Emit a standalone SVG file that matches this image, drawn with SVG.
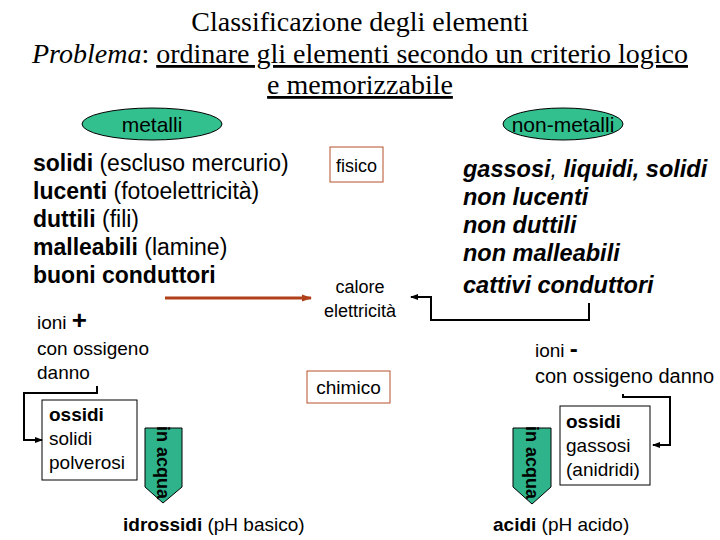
<svg xmlns="http://www.w3.org/2000/svg" width="720" height="540" viewBox="0 0 720 540">
<defs>
<style>
.t{font-family:"Liberation Serif",serif;font-size:28px;fill:#000}
.s{font-family:"Liberation Sans",Arial,sans-serif;fill:#000}
.l{font-size:23px}
.m{font-size:19px}
.bi{font-size:23.5px;font-weight:bold;font-style:italic}
.ell{fill:#33c08f;stroke:#000;stroke-width:1}
.box{fill:#fff;stroke:#000;stroke-width:1}
.bbox{fill:#fff;stroke:#b5502a;stroke-width:1}
.aq{fill:#2fb38a;stroke:#000;stroke-width:1}
.c{fill:none;stroke:#000;stroke-width:2}
</style>
<marker id="ah" markerWidth="8" markerHeight="8" refX="7" refY="4" orient="auto" markerUnits="userSpaceOnUse"><path d="M0,1 L8,4 L0,7 Z" fill="#000"/></marker>
<marker id="ahr" markerWidth="10" markerHeight="8" refX="9" refY="4" orient="auto" markerUnits="userSpaceOnUse"><path d="M0,0.5 L10,4 L0,7.5 Z" fill="#b0401a"/></marker>
</defs>
<g id="title">
<text class="t" x="360" y="31" text-anchor="middle">Classificazione degli elementi</text>
<text class="t" x="360" y="63" text-anchor="middle"><tspan font-style="italic">Problema</tspan>: <tspan text-decoration="underline">ordinare gli elementi secondo un criterio logico</tspan></text>
<text class="t" x="360" y="94" text-anchor="middle" text-decoration="underline">e memorizzabile</text>
</g>
<g id="metalli"><ellipse class="ell" cx="152" cy="124" rx="70" ry="16"/><text class="s" x="152" y="132" font-size="21" text-anchor="middle">metalli</text></g>
<g id="nonmetalli"><ellipse class="ell" cx="563" cy="124" rx="60" ry="16"/><text class="s" x="563" y="132" font-size="21" text-anchor="middle">non-metalli</text></g>
<g id="prop-metalli" class="s l">
<text x="33" y="171"><tspan font-weight="bold">solidi</tspan> (escluso mercurio)</text>
<text x="33" y="199"><tspan font-weight="bold">lucenti</tspan> (fotoelettricità)</text>
<text x="33" y="227"><tspan font-weight="bold">duttili</tspan> (fili)</text>
<text x="33" y="255"><tspan font-weight="bold">malleabili</tspan> (lamine)</text>
<text x="33" y="283" font-weight="bold">buoni conduttori</text>
</g>
<g id="prop-nonmetalli" class="s">
<text class="bi" x="463" y="177"><tspan>gassosi</tspan><tspan font-weight="normal">, </tspan><tspan>liquidi, solidi</tspan></text>
<text class="bi" x="463" y="205">non lucenti</text>
<text class="bi" x="463" y="233">non duttili</text>
<text class="bi" x="463" y="261">non malleabili</text>
<text class="bi" x="463" y="293">cattivi conduttori</text>
</g>
<g id="fisico"><rect class="bbox" x="330" y="147" width="53" height="35"/><text class="s" x="356.5" y="172" font-size="18" text-anchor="middle">fisico</text></g>
<g id="calore"><text class="s" x="360" y="293" font-size="18" text-anchor="middle">calore</text><text class="s" x="360" y="317" font-size="18" text-anchor="middle">elettricità</text></g>
<g id="chimico"><rect class="bbox" x="307" y="371" width="83" height="32"/><text class="s" x="348.5" y="394" font-size="19" text-anchor="middle">chimico</text></g>
<g id="ioni-pos" class="s m">
<text x="37" y="329">ioni <tspan font-weight="bold" font-size="26">+</tspan></text>
<text x="37" y="355">con ossigeno</text>
<text x="37" y="379">danno</text>
</g>
<g id="ioni-neg" class="s">
<text x="535" y="357" font-size="19">ioni <tspan font-weight="bold" font-size="24">-</tspan></text>
<text x="535" y="383" font-size="20">con ossigeno danno</text>
</g>
<g id="ossidi-basici"><rect class="box" x="42" y="400" width="95" height="80"/>
<text class="s m" x="49" y="421" font-weight="bold">ossidi</text><text class="s m" x="49" y="445">solidi</text><text class="s m" x="49" y="469">polverosi</text></g>
<g id="acqua-sx"><path class="aq" d="M145,428 H182 V487 L163,503 L145,487 Z"/><text class="s" font-size="18" font-weight="bold" transform="translate(157,426) rotate(90)">in acqua</text></g>
<g id="idrossidi"><text class="s m" x="123" y="531"><tspan font-weight="bold">idrossidi</tspan> (pH basico)</text></g>
<g id="ossidi-acidi"><rect class="box" x="560" y="406" width="90" height="79"/>
<text class="s m" x="566" y="428" font-weight="bold">ossidi</text><text class="s m" x="566" y="452">gassosi</text><text class="s m" x="566" y="476">(anidridi)</text></g>
<g id="acqua-dx"><path class="aq" d="M513,428 H551 V487 L532,504 L513,487 Z"/><text class="s" font-size="18" font-weight="bold" transform="translate(526,426) rotate(90)">in acqua</text></g>
<g id="acidi"><text class="s m" x="493" y="531"><tspan font-weight="bold">acidi</tspan> (pH acido)</text></g>
<g id="connectors">
<line x1="165" y1="298" x2="311" y2="298" stroke="#b0401a" stroke-width="3" marker-end="url(#ahr)"/>
<path class="c" d="M589,303 V320 H431 V297 H411" marker-end="url(#ah)"/>
<path class="c" d="M97,386 V393 H24 V440 H42" marker-end="url(#ah)"/>
<path class="c" d="M623,394 V397 H670 V445 H653" marker-end="url(#ah)"/>
</g>
</svg>
